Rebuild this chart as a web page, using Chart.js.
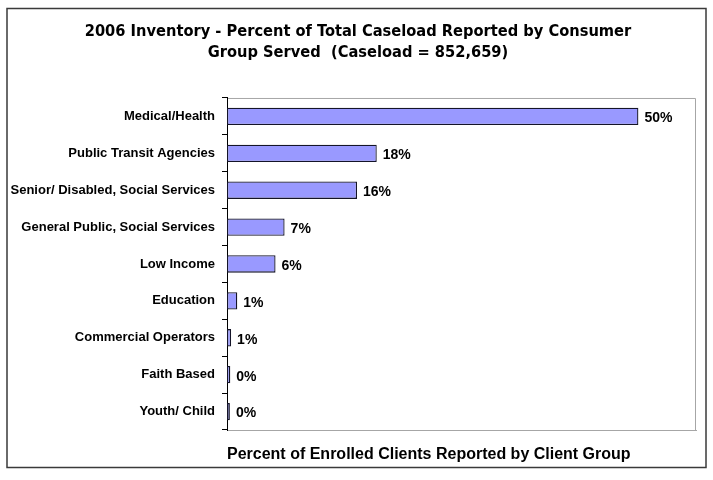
<!DOCTYPE html>
<html>
<head>
<meta charset="utf-8">
<script src="https://cdn.jsdelivr.net/npm/chart.js@4/dist/chart.umd.min.js"></script>
<style>
  body { margin: 0; background: #fff; }
  canvas { display: block; }
</style>
</head>
<body>
<canvas id="chart" width="713" height="480"></canvas>
<script>
// ── Data ──────────────────────────────────────────────
const groups = [
  "Medical/Health",
  "Public Transit Agencies",
  "Senior/ Disabled, Social Services",
  "General Public, Social Services",
  "Low Income",
  "Education",
  "Commercial Operators",
  "Faith Based",
  "Youth/ Child"
];
const percents = [50.0, 18.2, 15.8, 7.0, 5.9, 1.25, 0.5, 0.4, 0.35];
const titleLines = [
  "2006 Inventory - Percent of Total Caseload Reported by Consumer",
  "Group Served  (Caseload = 852,659)"
];
const axisTitle = "Percent of Enrolled Clients Reported by Client Group";

// ── Plugins ───────────────────────────────────────────
const frame = {
  id: "frame",
  beforeDraw(c) {
    const ctx = c.ctx, a = c.chartArea;
    ctx.save();
    ctx.fillStyle = "#fff";
    ctx.fillRect(0, 0, c.width, c.height);
    ctx.strokeStyle = "#3a3a3a";
    ctx.lineWidth = 1.5;
    ctx.strokeRect(7, 8.5, 699, 459);
    ctx.lineWidth = 1;
    ctx.strokeStyle = "#a6a6a6";
    ctx.beginPath();
    ctx.moveTo(a.left, a.top + 0.5);
    ctx.lineTo(a.right - 0.5, a.top + 0.5);
    ctx.lineTo(a.right - 0.5, a.bottom);
    ctx.stroke();
    ctx.restore();
  }
};

const valueLabels = {
  id: "valueLabels",
  afterDatasetsDraw(c) {
    const ctx = c.ctx;
    ctx.save();
    ctx.font = "bold 14px 'Liberation Sans', Arial, sans-serif";
    ctx.fillStyle = "#000";
    ctx.textBaseline = "middle";
    c.getDatasetMeta(0).data.forEach((bar, i) => {
      ctx.fillText(Math.round(percents[i]) + "%", bar.x + 6, bar.y + 2);
    });
    ctx.restore();
  }
};

// ── Chart ─────────────────────────────────────────────
new Chart(document.getElementById("chart"), {
  type: "bar",
  data: {
    labels: groups,
    datasets: [{
      data: percents,
      backgroundColor: "#9999ff",
      borderColor: "#141428",
      borderWidth: 1.3,
      borderSkipped: false,
      barPercentage: 0.47,
      categoryPercentage: 1
    }]
  },
  options: {
    indexAxis: "y",
    responsive: false,
    animation: false,
    layout: { padding: { left: 3, right: 0, top: 0, bottom: 0 } },
    plugins: {
      legend: { display: false },
      tooltip: { enabled: false },
      title: {
        display: true,
        text: titleLines,
        color: "#000",
        font: { family: "'Liberation Sans Narrow', 'DejaVu Sans Condensed', 'Liberation Sans', sans-serif", size: 16.3, weight: "bold", lineHeight: 1.3 },
        padding: { top: 21, bottom: 34.6 }
      }
    },
    scales: {
      x: {
        min: 0,
        max: 57,
        ticks: { display: false },
        grid: { display: false },
        border: { color: "#a6a6a6" },
        title: {
          display: true,
          text: axisTitle,
          align: "start",
          color: "#000",
          font: { family: "'Liberation Sans', Arial, sans-serif", size: 16, weight: "bold", lineHeight: 1.2 },
          padding: { top: 0, bottom: 15.5 }
        },
        afterFit(s) { s.height = 50; }
      },
      y: {
        grid: { drawOnChartArea: false, color: "#000", tickLength: 5, offset: true },
        border: { color: "#000" },
        ticks: {
          color: "#000",
          padding: 7,
          font: { family: "'Liberation Sans', Arial, sans-serif", size: 13, weight: "bold" }
        },
        afterFit(s) { s.width = 224; }
      },
      gap: {
        type: "linear",
        position: "right",
        display: true,
        ticks: { display: false },
        grid: { display: false },
        border: { display: false },
        afterFit(s) { s.width = 17; }
      }
    }
  },
  plugins: [frame, valueLabels]
});
</script>
</body>
</html>
